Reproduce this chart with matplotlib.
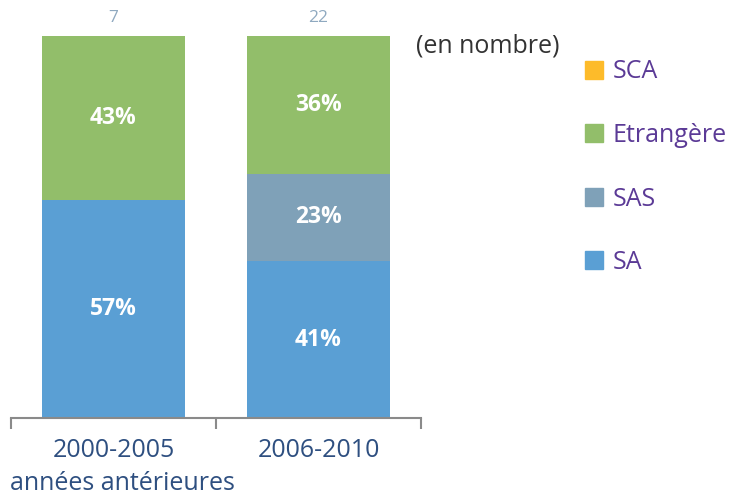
import numpy as np
import matplotlib
matplotlib.use("Agg")
import matplotlib.pyplot as plt
from matplotlib.patches import Patch

plt.rcParams['font.family'] = ['Open Sans', 'DejaVu Sans']

# data
categories = ['2000-2005', '2006-2010']
totals = [7, 22]
sa = [57, 41]
sas = [0, 23]
etrangere = [43, 36]
sca = [0, 0]

col_sa = '#5A9FD4'
col_sas = '#7FA1B8'
col_etr = '#92BE6A'
col_sca = '#FDBB2A'

fig = plt.figure(figsize=(7.36, 4.95), dpi=100)
ax = fig.add_axes([11/736, 77/495, 410/736, 382/495])

x = np.arange(len(categories)) + 0.5
w = 0.70
bottom = np.zeros(len(categories))
for vals, col in [(sa, col_sa), (sas, col_sas), (etrangere, col_etr), (sca, col_sca)]:
    vals = np.array(vals, dtype=float)
    ax.bar(x, vals, w, bottom=bottom, color=col, edgecolor='none')
    for xi, b, v in zip(x, bottom, vals):
        if v > 0:
            ax.text(xi, b + v / 2, f"{int(v)}%", ha='center', va='center',
                    color='white', fontsize=16.5, fontweight='bold')
    bottom += vals

# totals above bars
for xi, t in zip(x, totals):
    ax.text(xi, 104.8, str(t), ha='center', va='center', color='#8FA9C0', fontsize=12.5)

ax.set_xlim(0, 2)
ax.set_ylim(0, 100)
for s in ['top', 'right', 'left']:
    ax.spines[s].set_visible(False)
ax.spines['bottom'].set_color('#8A8A8A')
ax.spines['bottom'].set_linewidth(1.5)
ax.set_yticks([])
ax.set_xticks([0, 1, 2])
ax.set_xticklabels([])
ax.tick_params(axis='x', direction='out', length=8, width=1.5, color='#8A8A8A')

# category labels
for xi, c in zip(x, categories):
    ax.text(xi, -8.5, c, ha='center', va='center', color='#2E4F80', fontsize=18)
fig.text(10/736, 1 - 483/495, 'années antérieures', ha='left', va='center',
         color='#2E4F80', fontsize=18)

fig.text(416/736, 1 - 46/495, '(en nombre)', ha='left', va='center',
         color='#333333', fontsize=18)

handles = [Patch(color=col_sca), Patch(color=col_etr), Patch(color=col_sas), Patch(color=col_sa)]
labels = ['SCA', 'Etrangère', 'SAS', 'SA']
fig.legend(handles, labels, loc='upper left', bbox_to_anchor=(572/736, 1 - 47/495),
           frameon=False, fontsize=18, labelcolor='#5B3A96', handlelength=0.72,
           handleheight=0.72, handletextpad=0.4, labelspacing=1.54, borderpad=0)

fig.savefig('out.png', dpi=100)
